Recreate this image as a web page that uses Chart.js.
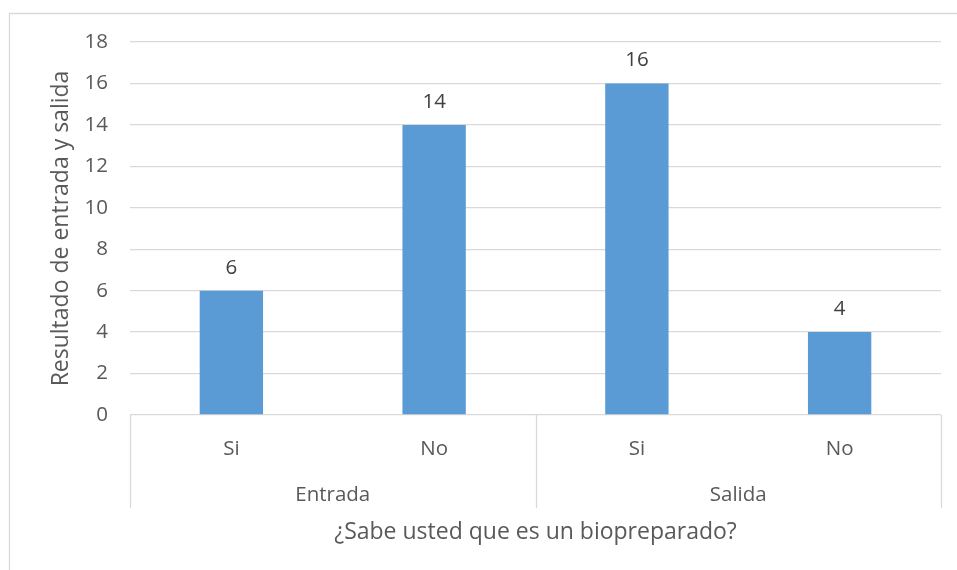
<!DOCTYPE html>
<html>
<head>
<meta charset="utf-8">
<script src="https://cdn.jsdelivr.net/npm/chart.js@4/dist/chart.umd.min.js"></script>
<style>
  html, body { margin: 0; padding: 0; background: #ffffff; overflow: hidden; }
  #wrap { position: relative; width: 957px; height: 570px; }
</style>
</head>
<body>
<div id="wrap"><canvas id="c" width="957" height="570"></canvas></div>
<script>
// Survey answers, grouped by stage
const answers = ['Si', 'No', 'Si', 'No'];
const stages = ['Entrada', 'Salida'];
const stageSize = [2, 2];
const counts = [6, 14, 16, 4];
const yTicks = [0, 2, 4, 6, 8, 10, 12, 14, 16, 18];

const FONT = "'Open Sans', 'DejaVu Sans', sans-serif";
const GRID = '#d9d9d9';
const TEXT = '#595959';
const TICK_SIZE = 20.5;
const TITLE_SIZE = 23;

// Outer frame of the chart object
const framePlugin = {
  id: 'frame',
  beforeDraw(chart) {
    const ctx = chart.ctx;
    ctx.save();
    ctx.strokeStyle = GRID;
    ctx.lineWidth = 1.3;
    ctx.beginPath();
    ctx.moveTo(9.5, chart.height + 2);
    ctx.lineTo(9.5, 13.5);
    ctx.lineTo(chart.width + 2, 13.5);
    ctx.stroke();
    ctx.restore();
  }
};

// Second category level: group separators and stage names
const groupAxisPlugin = {
  id: 'groupAxis',
  afterDraw(chart) {
    const x = chart.scales.x;
    const ctx = chart.ctx;
    const top = chart.chartArea.bottom;
    const bottom = top + 93;
    const edges = [x.left];
    let idx = 0;
    stageSize.forEach(n => {
      idx += n;
      if (idx < answers.length) {
        edges.push((x.getPixelForValue(idx - 1) + x.getPixelForValue(idx)) / 2);
      } else {
        edges.push(x.right);
      }
    });
    ctx.save();
    ctx.strokeStyle = GRID;
    ctx.lineWidth = 1.3;
    edges.forEach(px => {
      const xx = Math.round(px) + 0.5;
      ctx.beginPath();
      ctx.moveTo(xx, top);
      ctx.lineTo(xx, bottom);
      ctx.stroke();
    });
    ctx.fillStyle = TEXT;
    ctx.font = TICK_SIZE + 'px ' + FONT;
    ctx.textAlign = 'center';
    ctx.textBaseline = 'middle';
    stages.forEach((s, g) => {
      ctx.fillText(s, (edges[g] + edges[g + 1]) / 2, top + 80);
    });
    ctx.restore();
  }
};

// Value labels above each bar
const valueLabelPlugin = {
  id: 'valueLabels',
  afterDatasetsDraw(chart) {
    const ctx = chart.ctx;
    const meta = chart.getDatasetMeta(0);
    ctx.save();
    ctx.fillStyle = '#404040';
    ctx.font = TICK_SIZE + 'px ' + FONT;
    ctx.textAlign = 'center';
    ctx.textBaseline = 'alphabetic';
    meta.data.forEach((bar, i) => {
      ctx.fillText(String(counts[i]), bar.x, bar.y - 17);
    });
    ctx.restore();
  }
};

new Chart(document.getElementById('c'), {
  type: 'bar',
  data: {
    labels: answers,
    datasets: [{
      data: counts,
      backgroundColor: '#5b9bd5',
      borderWidth: 0,
      barPercentage: 1,
      categoryPercentage: 0.3125
    }]
  },
  options: {
    responsive: false,
    animation: false,
    events: [],
    layout: { padding: { top: 42, right: 16, left: 0, bottom: 0 } },
    plugins: { legend: { display: false }, tooltip: { enabled: false } },
    scales: {
      x: {
        grid: { display: false },
        border: { display: false },
        ticks: { color: TEXT, font: { family: FONT, size: TICK_SIZE }, padding: 14, maxRotation: 0 },
        title: {
          display: true,
          text: '¿Sabe usted que es un biopreparado?',
          color: TEXT,
          font: { family: FONT, size: TITLE_SIZE },
          padding: { top: 0, bottom: 24 }
        },
        afterFit(scale) { scale.height = 155; }
      },
      y: {
        min: 0,
        max: 18,
        afterBuildTicks(scale) { scale.ticks = yTicks.map(v => ({ value: v })); },
        grid: { color: GRID, lineWidth: 1.3, drawTicks: false },
        border: { display: false },
        ticks: { color: TEXT, font: { family: FONT, size: TICK_SIZE }, padding: 22 },
        title: {
          display: true,
          text: 'Resultado de entrada y salida',
          color: TEXT,
          font: { family: FONT, size: TITLE_SIZE },
          padding: { top: 48, bottom: 0 }
        },
        afterFit(scale) { scale.width = 130; }
      }
    }
  },
  plugins: [framePlugin, groupAxisPlugin, valueLabelPlugin]
});
</script>
</body>
</html>
